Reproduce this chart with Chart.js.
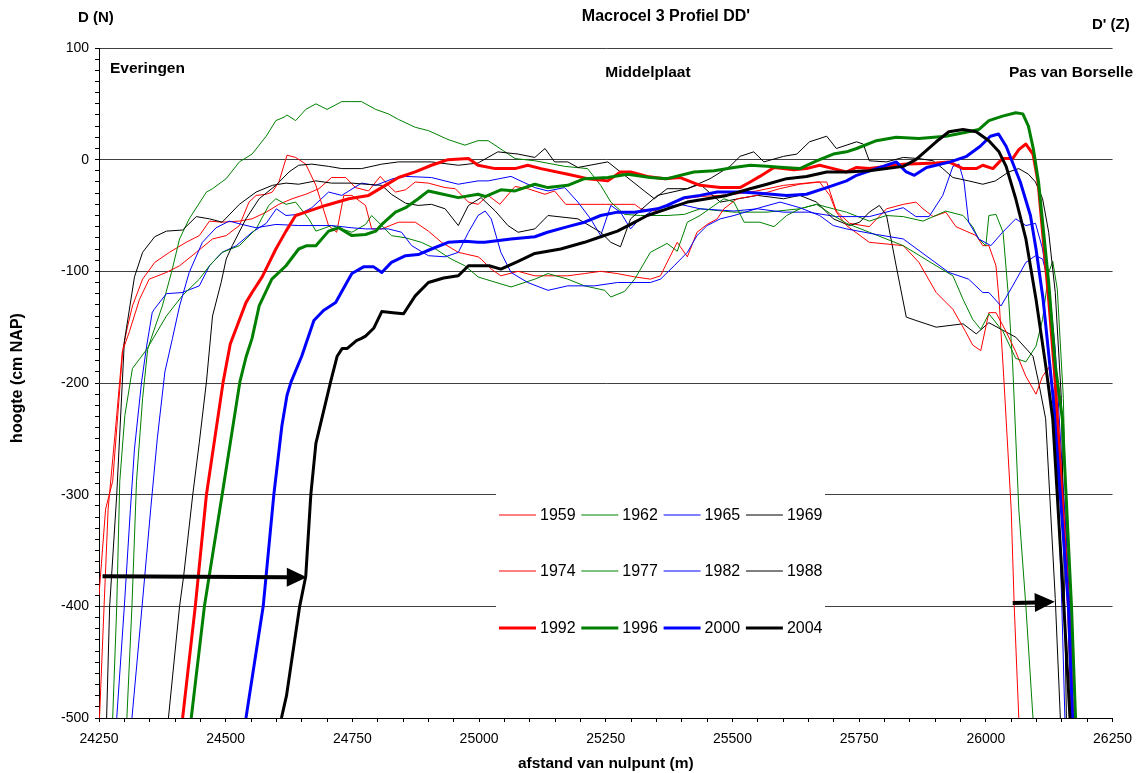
<!DOCTYPE html>
<html lang="nl">
<head>
<meta charset="utf-8">
<title>Macrocel 3 Profiel DD'</title>
<script src="https://cdn.jsdelivr.net/npm/chart.js@4.4.1/dist/chart.umd.min.js"></script>
<style>
  html, body { margin: 0; padding: 0; background: #fff; }
</style>
</head>
<body>
<canvas id="profiel" width="1141" height="773"></canvas>
<script>
// profielen: [afstand van nulpunt (m), hoogte (cm NAP)]
const p1959 = [[24250,-390],[24263,-313],[24277,-288],[24287,-229],[24297,-170],[24306,-150],[24316,-131],[24336,-107],[24360,-92],[24389,-83],[24422,-74],[24448,-68],[24468,-55],[24493,-56],[24527,-55],[24552,-53],[24580,-47],[24605,-40],[24631,-35],[24658,-31],[24684,-26],[24709,-16],[24737,-16],[24756,-25],[24782,-28],[24805,-15],[24821,-23],[24835,-29],[24855,-27],[24874,-20],[24900,-21],[24933,-25],[24953,-26],[24979,-38],[24998,-40],[25018,-32],[25041,-40],[25071,-24],[25096,-26],[25130,-31],[25149,-28],[25171,-40],[25200,-40],[25250,-40],[25307,-40],[25319,-44],[25346,-46],[25371,-41],[25405,-35],[25436,-33],[25476,-32],[25503,-31],[25548,-28],[25601,-23],[25666,-20],[25686,-20],[25705,-46],[25731,-57],[25770,-60],[25804,-44],[25837,-40],[25862,-38],[25876,-44],[25896,-51],[25921,-47],[25941,-60],[25981,-68],[25994,-77],[26006,-77],[26020,-95],[26026,-125],[26036,-200],[26050,-313],[26056,-400],[26065,-500]];
const p1962 = [[24305,-500],[24315,-400],[24324,-288],[24336,-214],[24346,-170],[24353,-160],[24375,-131],[24393,-101],[24409,-71],[24428,-53],[24462,-29],[24474,-26],[24501,-17],[24527,-2],[24552,5],[24580,21],[24599,35],[24615,38],[24621,40],[24638,35],[24658,45],[24678,50],[24700,45],[24729,52],[24749,52],[24768,52],[24796,45],[24821,41],[24841,36],[24874,29],[24900,26],[24939,18],[24972,13],[24998,17],[25018,17],[25071,1],[25110,-1],[25169,-6],[25214,-8],[25240,-23],[25260,-38],[25287,-49],[25319,-50],[25371,-50],[25405,-49],[25436,-44],[25503,-47],[25568,-47],[25633,-44],[25666,-40],[25699,-44],[25725,-47],[25770,-55],[25804,-50],[25837,-51],[25876,-55],[25921,-46],[25955,-50],[25974,-60],[25986,-71],[26000,-77],[26006,-50],[26020,-49],[26034,-65],[26045,-125],[26053,-184],[26065,-313],[26079,-400],[26093,-500]];
const p1965 = [[24285,-500],[24300,-400],[24312,-313],[24320,-259],[24334,-199],[24344,-167],[24355,-137],[24359,-134],[24383,-120],[24414,-119],[24448,-113],[24468,-95],[24493,-83],[24521,-77],[24552,-65],[24580,-57],[24600,-44],[24619,-50],[24644,-49],[24670,-43],[24703,-29],[24729,-32],[24768,-21],[24796,-23],[24830,-17],[24855,-15],[24906,-16],[24959,-22],[24998,-19],[25018,-19],[25063,-15],[25110,-25],[25136,-28],[25169,-25],[25195,-38],[25220,-53],[25240,-68],[25260,-41],[25279,-47],[25299,-62],[25313,-55],[25346,-44],[25397,-40],[25436,-44],[25503,-46],[25549,-44],[25601,-47],[25650,-47],[25705,-51],[25770,-51],[25837,-43],[25862,-51],[25888,-51],[25915,-32],[25935,-6],[25947,-4],[25957,-20],[25966,-56],[25986,-71],[26010,-77],[26033,-65],[26059,-53],[26079,-59],[26098,-57],[26112,-80],[26122,-113],[26132,-154],[26143,-300],[26150,-400],[26156,-500]];
const p1969 = [[24265,-500],[24271,-400],[24285,-300],[24300,-163],[24320,-105],[24336,-83],[24360,-69],[24383,-64],[24415,-63],[24442,-51],[24468,-53],[24493,-56],[24527,-40],[24560,-29],[24592,-23],[24619,-21],[24644,-22],[24678,-19],[24709,-21],[24749,-21],[24776,-22],[24808,-23],[24827,-31],[24855,-39],[24880,-41],[24906,-40],[24933,-44],[24959,-59],[24979,-41],[25004,-34],[25032,-46],[25057,-59],[25077,-65],[25110,-62],[25136,-50],[25195,-53],[25240,-65],[25260,-74],[25279,-78],[25299,-53],[25352,-32],[25411,-26],[25436,-22],[25476,-38],[25549,-32],[25601,-35],[25633,-32],[25666,-38],[25699,-53],[25731,-59],[25751,-56],[25770,-47],[25790,-41],[25804,-50],[25823,-95],[25843,-141],[25862,-144],[25902,-150],[25955,-147],[25981,-156],[26006,-146],[26059,-159],[26093,-176],[26104,-199],[26118,-232],[26137,-393],[26147,-500]];
const p1974 = [[24251,-500],[24260,-400],[24268,-313],[24282,-244],[24296,-172],[24310,-154],[24330,-125],[24349,-107],[24383,-101],[24409,-95],[24442,-83],[24474,-71],[24501,-68],[24527,-59],[24546,-38],[24560,-32],[24580,-31],[24592,-29],[24605,-20],[24621,4],[24638,2],[24658,-4],[24678,-23],[24703,-59],[24719,-65],[24733,-32],[24749,-32],[24776,-41],[24788,-62],[24808,-62],[24841,-56],[24874,-56],[24900,-64],[24926,-74],[24959,-83],[24998,-87],[25004,-89],[25024,-98],[25043,-104],[25077,-100],[25110,-104],[25175,-104],[25208,-102],[25240,-100],[25273,-102],[25307,-105],[25338,-107],[25358,-104],[25371,-92],[25391,-74],[25411,-87],[25430,-65],[25450,-58],[25470,-53],[25483,-44],[25509,-35],[25548,-32],[25593,-26],[25633,-22],[25672,-20],[25692,-32],[25705,-47],[25725,-59],[25770,-74],[25837,-77],[25868,-92],[25902,-119],[25935,-134],[25960,-154],[25974,-166],[25990,-171],[26006,-137],[26020,-137],[26040,-154],[26059,-172],[26079,-194],[26099,-210],[26112,-194],[26124,-186],[26141,-232],[26157,-321],[26165,-400],[26173,-500]];
const p1977 = [[24277,-500],[24285,-400],[24291,-288],[24301,-229],[24316,-187],[24344,-170],[24383,-140],[24414,-122],[24448,-107],[24468,-95],[24493,-83],[24527,-77],[24560,-62],[24585,-41],[24599,-35],[24619,-40],[24638,-38],[24664,-53],[24678,-64],[24709,-59],[24749,-65],[24776,-58],[24788,-50],[24808,-59],[24827,-68],[24855,-70],[24886,-74],[24914,-80],[24945,-89],[24972,-95],[24998,-105],[25012,-107],[25063,-114],[25110,-107],[25136,-102],[25175,-107],[25208,-113],[25248,-117],[25260,-123],[25287,-118],[25307,-107],[25338,-83],[25371,-75],[25391,-82],[25411,-56],[25436,-50],[25483,-35],[25503,-38],[25523,-56],[25554,-56],[25582,-60],[25607,-50],[25633,-44],[25666,-40],[25699,-50],[25725,-57],[25770,-65],[25837,-77],[25902,-95],[25935,-104],[25955,-125],[25974,-143],[25990,-152],[26006,-138],[26034,-154],[26059,-178],[26079,-181],[26099,-167],[26112,-143],[26124,-101],[26132,-91],[26141,-116],[26153,-214],[26162,-400],[26168,-500]];
const p1982 = [[24315,-500],[24335,-400],[24352,-313],[24365,-250],[24380,-190],[24395,-160],[24409,-131],[24428,-101],[24454,-74],[24481,-61],[24507,-55],[24532,-58],[24560,-61],[24599,-58],[24644,-59],[24709,-59],[24749,-61],[24776,-62],[24821,-62],[24847,-65],[24867,-77],[24900,-86],[24933,-87],[24959,-83],[24979,-65],[24998,-50],[25012,-46],[25024,-53],[25043,-83],[25063,-101],[25096,-110],[25136,-117],[25175,-113],[25228,-113],[25273,-110],[25338,-110],[25358,-107],[25385,-95],[25411,-83],[25430,-68],[25450,-59],[25476,-53],[25503,-50],[25554,-43],[25594,-38],[25633,-43],[25672,-50],[25699,-59],[25725,-62],[25784,-67],[25837,-71],[25882,-86],[25927,-101],[25966,-107],[25994,-119],[26006,-119],[26030,-131],[26053,-113],[26079,-92],[26098,-86],[26112,-89],[26124,-110],[26137,-170],[26160,-350],[26177,-500]];
const p1988 = [[24387,-500],[24409,-400],[24417,-373],[24435,-300],[24448,-253],[24462,-199],[24474,-140],[24491,-110],[24501,-89],[24513,-77],[24540,-53],[24566,-35],[24599,-23],[24625,-11],[24644,-5],[24670,-4],[24703,-6],[24729,-8],[24768,-8],[24808,-4],[24841,-2],[24906,-2],[24959,-5],[24998,-3],[25037,7],[25077,5],[25110,2],[25130,10],[25149,-2],[25175,-2],[25195,-7],[25254,-2],[25279,-11],[25326,-28],[25346,-35],[25371,-26],[25411,-26],[25456,-17],[25495,-6],[25515,3],[25542,7],[25562,-2],[25601,3],[25627,5],[25652,16],[25686,21],[25705,10],[25745,16],[25758,14],[25770,-1],[25804,-2],[25837,2],[25868,1],[25896,-1],[25915,-8],[25935,-16],[25966,-19],[25994,-22],[26019,-19],[26045,-11],[26065,-8],[26084,-13],[26098,-20],[26112,-35],[26124,-65],[26137,-119],[26149,-214],[26159,-500]];
const p1992 = [[24415,-500],[24440,-400],[24462,-300],[24495,-199],[24509,-165],[24540,-128],[24552,-119],[24572,-105],[24599,-80],[24619,-64],[24638,-50],[24658,-47],[24697,-41],[24743,-35],[24782,-32],[24815,-23],[24841,-16],[24874,-11],[24906,-5],[24939,0],[24979,1],[24998,-5],[25032,-8],[25071,-8],[25096,-5],[25122,-8],[25175,-13],[25214,-17],[25254,-19],[25279,-11],[25299,-11],[25332,-15],[25366,-17],[25397,-16],[25436,-23],[25476,-25],[25515,-25],[25535,-20],[25554,-15],[25582,-7],[25621,-9],[25646,-8],[25672,-5],[25699,-8],[25725,-11],[25745,-7],[25770,-8],[25837,-4],[25902,-3],[25927,-2],[25955,-8],[25981,-8],[25994,-5],[26014,-8],[26033,1],[26053,1],[26065,9],[26079,14],[26093,5],[26103,-20],[26112,-65],[26124,-125],[26137,-199],[26163,-400],[26171,-500]];
const p1996 = [[24432,-500],[24458,-400],[24493,-300],[24528,-199],[24540,-177],[24552,-160],[24566,-131],[24591,-107],[24619,-95],[24644,-80],[24660,-77],[24678,-77],[24703,-64],[24723,-61],[24749,-68],[24776,-67],[24796,-64],[24808,-58],[24835,-47],[24855,-43],[24880,-35],[24900,-28],[24920,-30],[24959,-34],[24998,-31],[25012,-33],[25043,-27],[25071,-28],[25110,-22],[25136,-25],[25175,-23],[25208,-17],[25254,-16],[25293,-13],[25338,-16],[25371,-17],[25424,-11],[25464,-10],[25503,-7],[25535,-5],[25568,-6],[25601,-7],[25633,-8],[25666,-1],[25699,5],[25725,7],[25745,10],[25784,17],[25823,20],[25868,19],[25921,21],[25966,25],[25986,27],[26006,35],[26033,39],[26059,42],[26073,41],[26084,30],[26094,9],[26104,-20],[26114,-65],[26124,-110],[26137,-184],[26151,-232],[26169,-400],[26177,-500]];
const p2000 = [[24540,-500],[24574,-400],[24595,-300],[24611,-238],[24621,-211],[24629,-199],[24650,-176],[24674,-144],[24693,-135],[24717,-128],[24739,-110],[24749,-102],[24772,-96],[24792,-96],[24808,-101],[24827,-92],[24855,-86],[24880,-85],[24906,-80],[24939,-74],[24972,-73],[24998,-74],[25011,-74],[25063,-71],[25110,-69],[25135,-65],[25175,-60],[25208,-56],[25240,-50],[25273,-47],[25307,-47],[25352,-44],[25371,-41],[25405,-34],[25436,-32],[25470,-29],[25515,-29],[25554,-30],[25607,-32],[25646,-31],[25686,-25],[25725,-19],[25745,-14],[25784,-8],[25823,-2],[25843,-11],[25859,-14],[25883,-7],[25930,-2],[25962,3],[25989,12],[26009,21],[26025,23],[26040,12],[26068,-20],[26088,-50],[26099,-80],[26113,-125],[26133,-214],[26163,-400],[26171,-500]];
const p2004 = [[24610,-500],[24620,-480],[24646,-400],[24658,-373],[24668,-300],[24678,-254],[24707,-199],[24720,-176],[24730,-169],[24740,-169],[24758,-162],[24768,-160],[24776,-158],[24792,-151],[24808,-136],[24830,-137],[24851,-138],[24874,-122],[24900,-110],[24930,-106],[24959,-104],[24979,-95],[24998,-95],[25020,-95],[25043,-98],[25077,-91],[25110,-84],[25161,-80],[25208,-74],[25240,-69],[25273,-64],[25299,-58],[25332,-50],[25371,-44],[25411,-38],[25450,-35],[25489,-32],[25535,-26],[25568,-22],[25607,-17],[25646,-15],[25686,-11],[25725,-11],[25770,-10],[25837,-6],[25862,0],[25902,16],[25927,25],[25955,27],[25981,25],[26006,17],[26026,7],[26040,-6],[26059,-35],[26079,-71],[26099,-125],[26118,-184],[26132,-232],[26154,-400],[26166,-500]];

const jaren = ['1959', '1962', '1965', '1969', '1974', '1977', '1982', '1988', '1992', '1996', '2000', '2004'];
const reeksen = [p1959, p1962, p1965, p1969, p1974, p1977, p1982, p1988, p1992, p1996, p2000, p2004];
const kleuren = ['#ff0000', '#008000', '#0000ff', '#000000'];
const dikte = jaren.map(j => (+j >= 1992 ? 3 : 1));

// pijlen: verschuiving van de geulwand, [van, naar] in (m, cm NAP)
const pijlen = [
  [[24257, -373], [24660, -374]],
  [[26053, -397], [26136, -396]]
];

const fam = '"Liberation Sans", Arial, Helvetica, sans-serif';
Chart.defaults.font.family = fam;
Chart.defaults.color = '#000';

const wit = {
  id: 'wit',
  beforeDraw(chart) {
    const c = chart.ctx;
    c.save();
    c.fillStyle = '#fff';
    c.fillRect(0, 0, chart.width, chart.height);
    c.restore();
  }
};

// legenda in een wit kader binnen het grafiekvlak
const rijY = [515, 571, 628];
const legenda = {
  id: 'legenda',
  beforeDatasetsDraw(chart) {
    const c = chart.ctx;
    c.save();
    c.fillStyle = '#fff';
    c.fillRect(496, 486, 329, 168);
    c.restore();
  },
  afterDatasetsDraw(chart) {
    const c = chart.ctx;
    c.save();
    c.font = '16px ' + fam;
    c.textBaseline = 'middle';
    c.textAlign = 'left';
    c.lineCap = 'butt';
    chart.data.datasets.forEach((ds, i) => {
      const kol = i % 4, rij = Math.floor(i / 4);
      const x0 = 499 + kol * 82.3;
      const y0 = rijY[rij];
      c.strokeStyle = ds.borderColor;
      c.lineWidth = ds.borderWidth;
      c.beginPath();
      c.moveTo(x0, y0);
      c.lineTo(x0 + 37, y0);
      c.stroke();
      c.fillStyle = '#000';
      c.fillText(ds.label, x0 + 41, y0 + 1);
    });
    c.restore();
  }
};

const pijlenEnTeksten = {
  id: 'pijlenEnTeksten',
  afterDatasetsDraw(chart) {
    const c = chart.ctx;
    const sx = chart.scales.x, sy = chart.scales.y;
    c.save();
    c.fillStyle = '#000';
    c.strokeStyle = '#000';
    pijlen.forEach(([van, naar]) => {
      const x1 = sx.getPixelForValue(van[0]), y1 = sy.getPixelForValue(van[1]);
      const x2 = sx.getPixelForValue(naar[0]), y2 = sy.getPixelForValue(naar[1]);
      const hoek = Math.atan2(y2 - y1, x2 - x1);
      const kop = 20, half = 9.5;
      const bx = x2 - kop * Math.cos(hoek), by = y2 - kop * Math.sin(hoek);
      c.lineWidth = 4;
      c.lineCap = 'butt';
      c.beginPath();
      c.moveTo(x1, y1);
      c.lineTo(bx + 1, by);
      c.stroke();
      c.beginPath();
      c.moveTo(x2, y2);
      c.lineTo(bx - half * Math.sin(hoek), by + half * Math.cos(hoek));
      c.lineTo(bx + half * Math.sin(hoek), by - half * Math.cos(hoek));
      c.closePath();
      c.fill();
    });
    c.restore();
  },
  afterDraw(chart) {
    const c = chart.ctx;
    c.save();
    c.fillStyle = '#000';
    c.textBaseline = 'middle';
    c.font = 'bold 15px ' + fam;
    c.textAlign = 'left';
    c.fillText('D (N)', 78, 18);
    c.fillText("D' (Z)", 1092, 25);
    c.font = 'bold 15.5px ' + fam;
    c.fillText('Everingen', 110, 69);
    c.textAlign = 'center';
    c.fillText('Middelplaat', 648, 73);
    c.font = 'bold 16px ' + fam;
    c.fillText("Macrocel 3 Profiel DD'", 666, 17);
    c.font = 'bold 15.5px ' + fam;
    c.textAlign = 'right';
    c.fillText('Pas van Borselle', 1133, 73);
    // titel van de hoogte-as
    c.translate(18, 378);
    c.rotate(-Math.PI / 2);
    c.textAlign = 'center';
    c.font = 'bold 16px ' + fam;
    c.fillText('hoogte (cm NAP)', 0, 0);
    c.restore();
  }
};

new Chart(document.getElementById('profiel'), {
  type: 'line',
  data: {
    datasets: jaren.map((jaar, i) => ({
      label: jaar,
      data: reeksen[i].map(([x, y]) => ({ x, y })),
      borderColor: kleuren[i % 4],
      borderWidth: dikte[i],
      borderJoinStyle: 'round',
      pointRadius: 0,
      fill: false,
      tension: 0,
      order: jaren.length - i
    }))
  },
  options: {
    responsive: false,
    animation: false,
    events: [],
    layout: { padding: { top: 48, right: 24, left: 0, bottom: 0 } },
    plugins: {
      legend: { display: false },
      tooltip: { enabled: false }
    },
    scales: {
      x: {
        type: 'linear',
        min: 24250,
        max: 26250,
        afterFit: s => { s.height = 55; },
        ticks: {
          stepSize: 50,
          autoSkip: false,
          maxRotation: 0,
          padding: 9,
          font: { size: 14 },
          callback: v => (Math.round(v) % 250 === 0 ? String(Math.round(v)) : '')
        },
        grid: { drawOnChartArea: false, drawTicks: true, tickLength: 4, color: '#000' },
        border: { color: '#000', width: 1 },
        title: {
          display: true,
          text: 'afstand van nulpunt (m)',
          font: { size: 15.5, weight: 'bold' },
          padding: { top: 0, bottom: 0 }
        }
      },
      y: {
        type: 'linear',
        min: -500,
        max: 100,
        afterFit: s => { s.width = 99; },
        ticks: {
          stepSize: 10,
          autoSkip: false,
          padding: 6,
          font: { size: 14 },
          callback: v => (Math.round(v) % 100 === 0 ? String(Math.round(v)) : '')
        },
        grid: {
          drawTicks: true,
          tickLength: 4,
          tickColor: '#000',
          color: ctx => (ctx.tick && Math.round(ctx.tick.value) % 100 === 0 ? '#404040' : 'rgba(0,0,0,0)')
        },
        border: { color: '#000', width: 1 }
      }
    }
  },
  plugins: [wit, legenda, pijlenEnTeksten]
});
</script>
</body>
</html>
